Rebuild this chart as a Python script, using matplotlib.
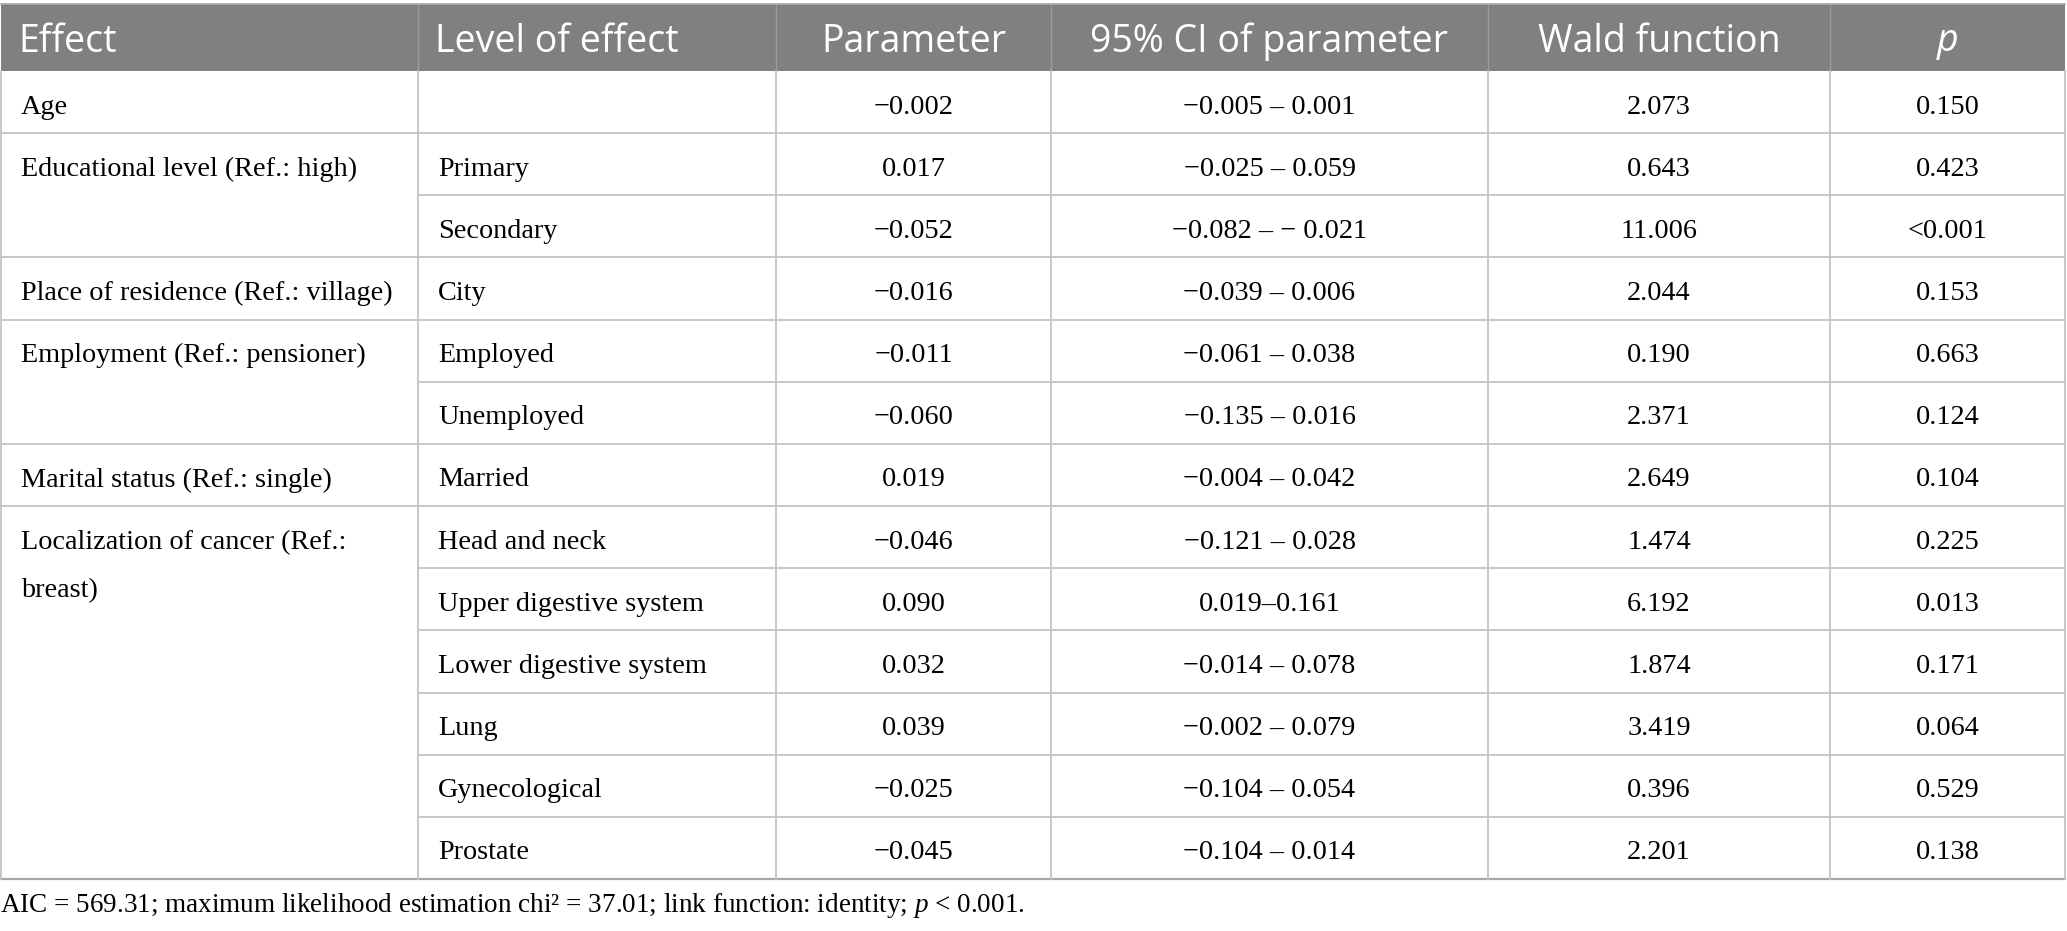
import matplotlib as mpl
import matplotlib.pyplot as plt
from matplotlib.patches import Rectangle

mpl.rcParams['mathtext.fontset'] = 'custom'
mpl.rcParams['mathtext.rm'] = 'Liberation Serif'
mpl.rcParams['mathtext.it'] = 'Liberation Serif:italic'

# table content
headers = ['Effect', 'Level of effect', 'Parameter', '95% CI of parameter', 'Wald function', 'p']
effects = ['Age', 'Educational level (Ref.: high)', 'Place of residence (Ref.: village)',
           'Employment (Ref.: pensioner)', 'Marital status (Ref.: single)',
           'Localization of cancer (Ref.:\nbreast)']
effect_spans = [1, 2, 1, 2, 1, 6]
levels = ['', 'Primary', 'Secondary', 'City', 'Employed', 'Unemployed', 'Married',
          'Head and neck', 'Upper digestive system', 'Lower digestive system', 'Lung',
          'Gynecological', 'Prostate']
params = ['\u22120.002', '0.017', '\u22120.052', '\u22120.016', '\u22120.011', '\u22120.060',
          '0.019', '\u22120.046', '0.090', '0.032', '0.039', '\u22120.025', '\u22120.045']
cis = ['\u22120.005 \u2013 0.001', '\u22120.025 \u2013 0.059', '\u22120.082 \u2013 \u2212 0.021',
       '\u22120.039 \u2013 0.006', '\u22120.061 \u2013 0.038', '\u22120.135 \u2013 0.016',
       '\u22120.004 \u2013 0.042', '\u22120.121 \u2013 0.028', '0.019\u20130.161',
       '\u22120.014 \u2013 0.078', '\u22120.002 \u2013 0.079', '\u22120.104 \u2013 0.054',
       '\u22120.104 \u2013 0.014']
walds = ['2.073', '0.643', '11.006', '2.044', '0.190', '2.371', '2.649', '1.474', '6.192',
         '1.874', '3.419', '0.396', '2.201']
pvals = ['0.150', '0.423', '<0.001', '0.153', '0.663', '0.124', '0.104', '0.225', '0.013',
         '0.171', '0.064', '0.529', '0.138']
footnote = 'AIC = 569.31; maximum likelihood estimation chi\u00b2 = 37.01; link function: identity; $\\mathit{p}$ < 0.001.'

W, H = 2067, 931
fig = plt.figure(figsize=(W / 100, H / 100), dpi=100)
ax = fig.add_axes([0, 0, 1, 1])
ax.set_xlim(0, W)
ax.set_ylim(H, 0)
ax.axis('off')

col_x = [1, 418, 776, 1051, 1488, 1830, 2065]
top, head_bot, bottom = 4, 71, 879
nrows = len(levels)
rh = (bottom - head_bot) / nrows
row_y = [head_bot + i * rh for i in range(nrows + 1)]

grid_c = '#c4c4c4'
head_c = '#808080'
serif = 'Liberation Serif'
body_fs = 20.3
head_fs = 27
pad = 20

# header
ax.add_patch(Rectangle((col_x[0], top), col_x[-1] - col_x[0], head_bot - top,
                       facecolor=head_c, edgecolor='none'))
for j, h in enumerate(headers):
    if j < 2:
        x, ha = col_x[j] + pad - 3, 'left'
    else:
        x, ha = (col_x[j] + col_x[j + 1]) / 2, 'center'
    style = 'italic' if h == 'p' else 'normal'
    ax.text(x, (top + head_bot) / 2 + 4, h, ha=ha, va='center', color='white',
            fontsize=head_fs, family='Open Sans', style=style)
for xv in col_x[1:-1]:
    ax.plot([xv, xv], [top, head_bot], color='#9c9c9c', lw=1)

# horizontal lines
ax.plot([col_x[0], col_x[-1]], [top, top], color='#a8a8a8', lw=1.2)
start = 0
group_starts = []
for s in effect_spans:
    group_starts.append(start)
    start += s
for i in range(1, nrows):
    x0 = col_x[0] if i in group_starts else col_x[1]
    ax.plot([x0, col_x[-1]], [row_y[i], row_y[i]], color=grid_c, lw=1.3)
ax.plot([col_x[0], col_x[-1]], [bottom, bottom], color='#a8a8a8', lw=1.6)

# vertical lines
for xv in col_x:
    ax.plot([xv, xv], [head_bot, bottom], color=grid_c, lw=1.3)

# effect column (merged cells, text in first row)
for g, txt in zip(group_starts, effects):
    yc = (row_y[g] + row_y[g + 1]) / 2 + 5
    for k, line in enumerate(txt.split('\n')):
        ax.text(col_x[0] + pad, yc + k * 48, line, ha='left', va='center',
                fontsize=body_fs, family=serif)

# other columns
for i in range(nrows):
    yc = (row_y[i] + row_y[i + 1]) / 2 + 5
    ax.text(col_x[1] + pad, yc, levels[i], ha='left', va='center', fontsize=body_fs, family=serif)
    for j, vals in zip(range(2, 6), [params, cis, walds, pvals]):
        ax.text((col_x[j] + col_x[j + 1]) / 2, yc, vals[i], ha='center', va='center',
                fontsize=body_fs, family=serif)

ax.text(0, 905, footnote, ha='left', va='center', fontsize=19.5, family=serif)

fig.savefig('out.png', dpi=100)
